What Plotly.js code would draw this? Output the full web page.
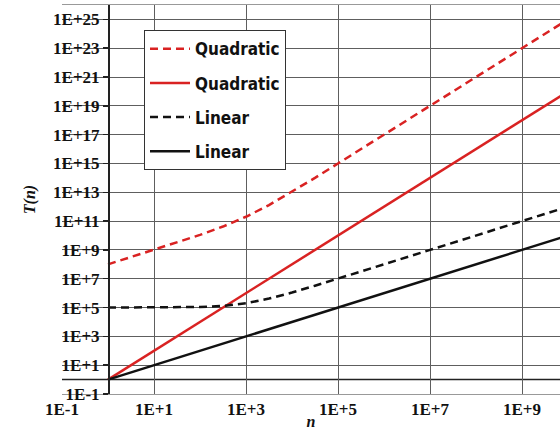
<!DOCTYPE html>
<html>
<head>
<meta charset="utf-8">
<script src="https://cdn.plot.ly/plotly-3.0.1.min.js"></script>
<style>html,body{margin:0;padding:0;background:#fff;overflow:hidden}</style>
</head>
<body>
<div id="chart" style="width:560px;height:430px"></div>
<script>
// Data
const n = [1, 3.16, 10, 31.6, 100, 316, 1e3, 3.16e3, 1e4, 3.16e4, 1e5, 1e6, 1e7, 1e8, 1e9, 1e10];
const quadraticDashed = [1.0e8, 3.2e8, 1.0e9, 3.3e9, 1.1e10, 4.2e10, 2.0e11, 1.3e12, 1.1e13, 1.0e14, 1.0e15, 1.0e17, 1.0e19, 1.0e21, 1.0e23, 1.0e25];
const quadraticSolid = [1, 10, 1e2, 1e3, 1e4, 1e5, 1e6, 1e7, 1e8, 1e9, 1e10, 1e12, 1e14, 1e16, 1e18, 1e20];
const linearDashed = [1.0e5, 1.0e5, 1.0e5, 1.0e5, 1.1e5, 1.3e5, 2.0e5, 4.2e5, 1.1e6, 3.3e6, 1.0e7, 1.0e8, 1.0e9, 1.0e10, 1.0e11, 1.0e12];
const linearSolid = [1, 3.16, 10, 31.6, 100, 316, 1e3, 3.16e3, 1e4, 3.16e4, 1e5, 1e6, 1e7, 1e8, 1e9, 1e10];
const seriesNames = ["Quadratic", "Quadratic", "Linear", "Linear"];
const xTickExp = [-1, 1, 3, 5, 7, 9];
const yTickExp = [-1, 1, 3, 5, 7, 9, 11, 13, 15, 17, 19, 21, 23, 25];
const axisCross = 1;

const label = e => "1E" + (e < 0 ? "-" : "+") + Math.abs(e);
const RED = "#d92222", BLACK = "#111111";

const traces = [
  {y: quadraticDashed, color: RED, dash: "8px,5px"},
  {y: quadraticSolid, color: RED, dash: "solid"},
  {y: linearDashed, color: BLACK, dash: "8px,5px"},
  {y: linearSolid, color: BLACK, dash: "solid"}
].map((s, i) => ({
  x: n, y: s.y, name: seriesNames[i], type: "scatter", mode: "lines",
  legendgroup: "g" + i,
  line: {color: s.color, width: 2.5, dash: s.dash}
}));

const serif = "'Liberation Serif', 'Times New Roman', serif";
const tickFont = {family: serif, size: 17, color: "#111", weight: "bold"};
const gridCol = "#5e5e5e";

const layout = {
  width: 560, height: 430,
  margin: {l: 62, r: 0, t: 5, b: 36},
  paper_bgcolor: "#fff", plot_bgcolor: "#fff",
  showlegend: true,
  legend: {
    x: (144 - 62) / 498, y: 0.935, xanchor: "left", yanchor: "top",
    bgcolor: "#fff", bordercolor: "#333", borderwidth: 1,
    font: {family: "'Liberation Sans Narrow', 'Arial Narrow', 'DejaVu Sans Condensed', sans-serif", size: 17, color: "#111", weight: "bold"},
    traceorder: "grouped", tracegroupgap: 9, itemwidth: 40
  },
  xaxis: {
    type: "log", range: [-1, -1 + 498 / 46],
    tickvals: xTickExp.map(e => Math.pow(10, e)), ticktext: xTickExp.map(label),
    tickfont: tickFont, ticks: "", ticklabelstandoff: 0,
    showgrid: true, gridcolor: gridCol, gridwidth: 1,
    showline: true, linecolor: "#999", linewidth: 1, mirror: true,
    zeroline: false, automargin: false,
    title: {text: "n", font: {family: serif, size: 16, color: "#111", weight: "bold", style: "italic"}, standoff: 0}
  },
  yaxis: {
    type: "log", range: [-1, 26],
    anchor: "free", position: 46 / 498,
    tickvals: yTickExp.map(e => Math.pow(10, e)), ticktext: yTickExp.map(label),
    tickfont: tickFont, ticks: "outside", ticklen: 5, tickcolor: "#222", tickwidth: 1.5,
    showgrid: true, gridcolor: gridCol, gridwidth: 1,
    showline: true, linecolor: "#222", linewidth: 1.5,
    zeroline: false, automargin: false,
    title: {text: "T(n)", font: {family: serif, size: 16, color: "#111", weight: "bold", style: "italic"}, standoff: 12}
  },
  shapes: [{
    type: "line", xref: "paper", x0: 0, x1: 1, yref: "y", y0: axisCross, y1: axisCross,
    line: {color: "#222", width: 1.5}, layer: "below"
  }]
};

Plotly.newPlot("chart", traces, layout, {displayModeBar: false, staticPlot: true});
</script>
</body>
</html>
